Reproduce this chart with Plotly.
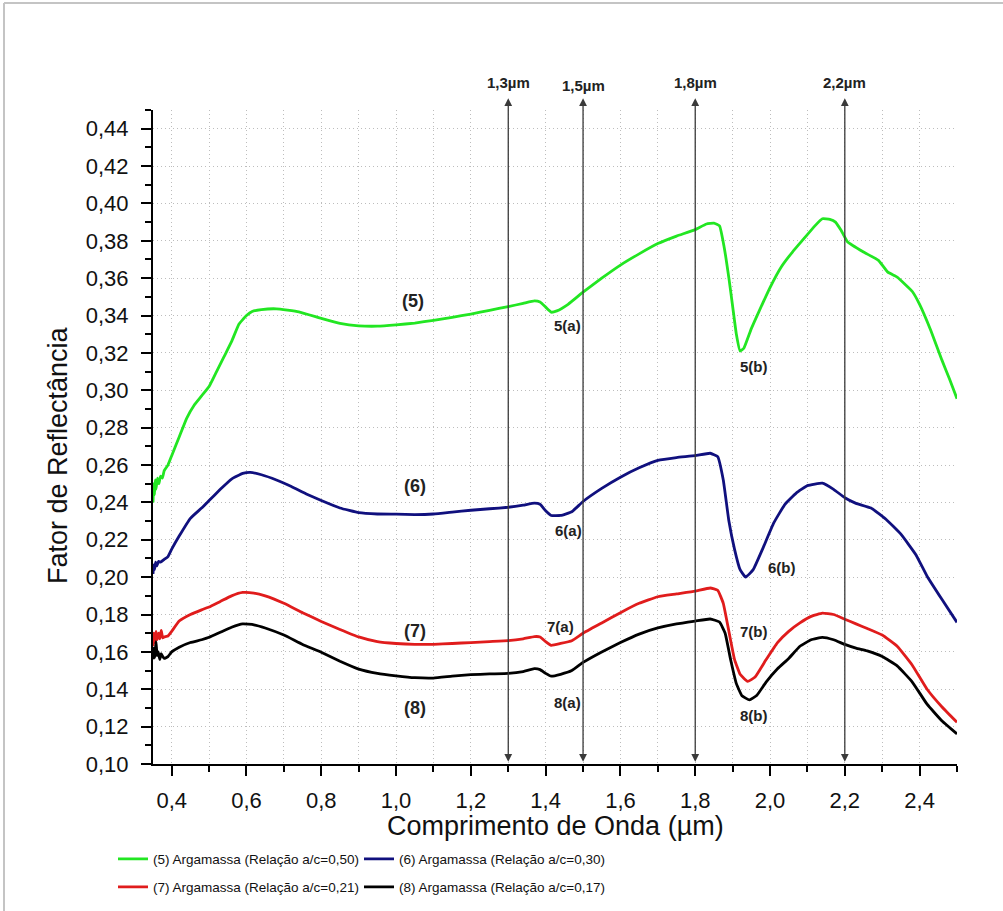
import plotly.graph_objects as go

# ---------------- data ----------------
x5 = [0.350, 0.352, 0.354, 0.356, 0.358, 0.362, 0.366, 0.370, 0.375, 0.380, 0.39, 0.40, 0.42, 0.44, 0.46, 0.48,
      0.50, 0.52, 0.54, 0.56, 0.58, 0.60, 0.615, 0.64, 0.68, 0.74, 0.80, 0.85, 0.90, 0.95, 1.00, 1.05, 1.10, 1.15,
      1.20, 1.25, 1.30, 1.34, 1.37, 1.385, 1.40, 1.415, 1.43, 1.46, 1.50, 1.55, 1.60, 1.65, 1.70, 1.75, 1.80, 1.83,
      1.85, 1.865, 1.877, 1.89, 1.90, 1.91, 1.92, 1.93, 1.95, 1.97, 2.00, 2.03, 2.06, 2.09, 2.12, 2.14, 2.16, 2.175,
      2.19, 2.207, 2.25, 2.29, 2.315, 2.34, 2.365, 2.38, 2.40, 2.43, 2.46, 2.48, 2.50]
y5 = [0.240, 0.250, 0.244, 0.252, 0.247, 0.253, 0.250, 0.254, 0.253, 0.257, 0.260, 0.265, 0.275, 0.285, 0.292, 0.297,
      0.302, 0.310, 0.318, 0.326, 0.3355, 0.3400, 0.3422, 0.3432, 0.3436, 0.3420, 0.3385, 0.3358, 0.3345, 0.3343,
      0.3350, 0.3360, 0.3374, 0.3390, 0.3408, 0.3428, 0.3448, 0.3465, 0.3478, 0.3472, 0.3445, 0.3418, 0.3425,
      0.3460, 0.3525, 0.3600, 0.3670, 0.3730, 0.3785, 0.3825, 0.3860, 0.3890, 0.3895, 0.3880, 0.3770, 0.3600,
      0.3450, 0.3300, 0.3210, 0.3225, 0.3330, 0.3420, 0.3550, 0.3660, 0.3740, 0.3810, 0.3880, 0.3918, 0.3915,
      0.3900, 0.3856, 0.3795, 0.3740, 0.3695, 0.3632, 0.3606, 0.3560, 0.3530, 0.3460, 0.3320, 0.3160, 0.3060,
      0.2955]

x6 = [0.350, 0.352, 0.354, 0.357, 0.360, 0.365, 0.370, 0.38, 0.39, 0.40, 0.42, 0.45, 0.48, 0.50, 0.53, 0.56, 0.59,
      0.61, 0.64, 0.68, 0.72, 0.76, 0.80, 0.85, 0.90, 0.95, 1.00, 1.05, 1.10, 1.15, 1.20, 1.25, 1.30, 1.34, 1.37,
      1.385, 1.40, 1.415, 1.44, 1.47, 1.50, 1.55, 1.60, 1.65, 1.70, 1.75, 1.80, 1.84, 1.86, 1.875, 1.89, 1.905,
      1.92, 1.935, 1.955, 1.98, 2.01, 2.04, 2.07, 2.10, 2.14, 2.17, 2.20, 2.23, 2.27, 2.31, 2.35, 2.39, 2.42,
      2.46, 2.50]
y6 = [0.2017, 0.2065, 0.2040, 0.2080, 0.2060, 0.2085, 0.2080, 0.2095, 0.2110, 0.2150, 0.2220, 0.2315, 0.2370,
      0.2410, 0.2470, 0.2525, 0.2555, 0.2561, 0.2548, 0.2520, 0.2485, 0.2445, 0.2410, 0.2370, 0.2345, 0.2338,
      0.2337, 0.2335, 0.2338, 0.2348, 0.2358, 0.2366, 0.2374, 0.2385, 0.2396, 0.2390, 0.2355, 0.2330, 0.2330,
      0.2350, 0.2405, 0.2475, 0.2535, 0.2585, 0.2625, 0.2640, 0.2650, 0.2663, 0.2645, 0.2520, 0.2300, 0.2150,
      0.2040, 0.2000, 0.2040, 0.2150, 0.2290, 0.2390, 0.2450, 0.2490, 0.2503, 0.2470, 0.2425, 0.2395, 0.2370,
      0.2310, 0.2230, 0.2120, 0.2005, 0.1880, 0.1758]

x7 = [0.350, 0.352, 0.355, 0.358, 0.361, 0.365, 0.368, 0.372, 0.376, 0.38, 0.39, 0.40, 0.42, 0.45, 0.48, 0.50,
      0.53, 0.56, 0.59, 0.62, 0.65, 0.70, 0.75, 0.80, 0.85, 0.90, 0.95, 1.00, 1.05, 1.10, 1.15, 1.20, 1.25, 1.30,
      1.34, 1.37, 1.385, 1.40, 1.415, 1.44, 1.47, 1.50, 1.55, 1.60, 1.65, 1.70, 1.75, 1.80, 1.84, 1.86, 1.875,
      1.89, 1.905, 1.92, 1.94, 1.96, 1.99, 2.02, 2.05, 2.08, 2.11, 2.14, 2.17, 2.20, 2.23, 2.26, 2.30, 2.34,
      2.38, 2.42, 2.46, 2.50]
y7 = [0.1630, 0.1700, 0.1650, 0.1710, 0.1665, 0.1700, 0.1670, 0.1715, 0.1675, 0.1680, 0.1685, 0.1710, 0.1765,
      0.1800, 0.1825, 0.1840, 0.1870, 0.1900, 0.1918, 0.1915, 0.1900, 0.1860, 0.1810, 0.1763, 0.1720, 0.1680,
      0.1655, 0.1645, 0.1640, 0.1640, 0.1645, 0.1650, 0.1655, 0.1660, 0.1670, 0.1682, 0.1680, 0.1655, 0.1635,
      0.1645, 0.1660, 0.1700, 0.1755, 0.1810, 0.1860, 0.1895, 0.1910, 0.1925, 0.1942, 0.1930, 0.1860, 0.1710,
      0.1560, 0.1480, 0.1442, 0.1465, 0.1560, 0.1650, 0.1710, 0.1755, 0.1790, 0.1807, 0.1800, 0.1775, 0.1750,
      0.1725, 0.1690, 0.1630, 0.1530, 0.1400, 0.1305, 0.1223]

x8 = [0.350, 0.352, 0.355, 0.358, 0.361, 0.364, 0.368, 0.372, 0.376, 0.38, 0.39, 0.40, 0.42, 0.45, 0.48, 0.50,
      0.53, 0.56, 0.59, 0.62, 0.65, 0.70, 0.75, 0.80, 0.85, 0.90, 0.95, 1.00, 1.05, 1.10, 1.15, 1.20, 1.25, 1.30,
      1.34, 1.37, 1.385, 1.40, 1.415, 1.44, 1.47, 1.50, 1.55, 1.60, 1.65, 1.70, 1.75, 1.80, 1.84, 1.865, 1.88,
      1.895, 1.91, 1.925, 1.945, 1.965, 1.99, 2.02, 2.05, 2.08, 2.11, 2.14, 2.17, 2.20, 2.23, 2.26, 2.30, 2.34,
      2.38, 2.42, 2.46, 2.50]
y8 = [0.1560, 0.1620, 0.1570, 0.1655, 0.1580, 0.1600, 0.1560, 0.1590, 0.1575, 0.1565, 0.1575, 0.1600, 0.1625,
      0.1650, 0.1665, 0.1678, 0.1705, 0.1732, 0.1750, 0.1745, 0.1728, 0.1690, 0.1640, 0.1598, 0.1550, 0.1508,
      0.1485, 0.1472, 0.1462, 0.1460, 0.1470, 0.1478, 0.1482, 0.1485, 0.1495, 0.1510, 0.1505, 0.1485, 0.1470,
      0.1480, 0.1500, 0.1544, 0.1600, 0.1650, 0.1695, 0.1728, 0.1750, 0.1765, 0.1776, 0.1760, 0.1700, 0.1555,
      0.1430, 0.1365, 0.1343, 0.1368, 0.1440, 0.1510, 0.1565, 0.1630, 0.1665, 0.1678, 0.1665, 0.1640, 0.1620,
      0.1605, 0.1575, 0.1525, 0.1440, 0.1320, 0.1230, 0.1161]

series_names = ["(5) Argamassa (Relação a/c=0,50)", "(6) Argamassa (Relação a/c=0,30)",
                "(7) Argamassa (Relação a/c=0,21)", "(8) Argamassa (Relação a/c=0,17)"]
series_colors = ["#22e622", "#10107e", "#e01c1c", "#000000"]

arrow_x = [1.3, 1.5, 1.8, 2.2]
arrow_labels = ["1,3µm", "1,5µm", "1,8µm", "2,2µm"]

curve_labels = ["(5)", "(6)", "(7)", "(8)"]
curve_label_x = [1.045, 1.05, 1.05, 1.05]
curve_label_y = [0.3477, 0.249, 0.1713, 0.130]

band_labels = ["5(a)", "5(b)", "6(a)", "6(b)", "7(a)", "7(b)", "8(a)", "8(b)"]
band_label_x = [1.458, 1.956, 1.46, 2.033, 1.439, 1.956, 1.458, 1.956]
band_label_y = [0.3347, 0.3128, 0.2248, 0.2051, 0.1735, 0.1709, 0.1328, 0.1259]

# ---------------- layout constants ----------------
W, H = 1003, 911
L, R, T, B = 153, 957, 110, 764
PW, PH = R - L, B - T


def px2paper_x(px):
    return (px - L) / PW


def px2paper_y(py):
    return 1 - (py - T) / PH


fig = go.Figure()
xs = [x5, x6, x7, x8]
ys = [y5, y6, y7, y8]
legend_ids = ["legend", "legend2", "legend3", "legend4"]
for i in range(4):
    fig.add_trace(go.Scatter(
        x=xs[i], y=ys[i], mode="lines", name=series_names[i],
        line=dict(color=series_colors[i], width=2.8, shape="spline", smoothing=0.35),
        legend=legend_ids[i], showlegend=True,
    ))

annotations = []
# arrows
for ax_, lab in zip(arrow_x, arrow_labels):
    annotations.append(dict(
        x=ax_, y=0.1012, xref="x", yref="y", ax=0, ay=-(B - 2 - 97), axref="pixel", ayref="pixel",
        text="", showarrow=True, arrowhead=2, startarrowhead=2, arrowside="end+start",
        arrowsize=1.2, startarrowsize=1.2, arrowwidth=1.3, arrowcolor="#3a3a3a",
    ))
    annotations.append(dict(
        x=ax_, y=px2paper_y(83 if lab != "1,5µm" else 85), xref="x", yref="paper",
        text="<b>%s</b>" % lab, showarrow=False, xanchor="center", yanchor="middle",
        font=dict(family="Arial", size=15, color="#222"),
    ))
for t, x_, y_ in zip(curve_labels, curve_label_x, curve_label_y):
    annotations.append(dict(x=x_, y=y_, xref="x", yref="y", text="<b>%s</b>" % t, showarrow=False,
                            font=dict(family="Arial", size=18, color="#222")))
for t, x_, y_ in zip(band_labels, band_label_x, band_label_y):
    annotations.append(dict(x=x_, y=y_, xref="x", yref="y", text="<b>%s</b>" % t, showarrow=False,
                            font=dict(family="Arial", size=15, color="#222")))
# axis titles
annotations.append(dict(x=px2paper_x(58), y=px2paper_y(455), xref="paper", yref="paper",
                        text="Fator de Reflectância", textangle=-90, showarrow=False,
                        xanchor="center", yanchor="middle", font=dict(family="Arial", size=27, color="#111")))
annotations.append(dict(x=0.5, y=px2paper_y(826), xref="paper", yref="paper",
                        text="Comprimento de Onda (µm)", showarrow=False,
                        xanchor="center", yanchor="middle", font=dict(family="Arial", size=27, color="#111")))

shapes = [
    dict(type="line", xref="paper", yref="paper", x0=px2paper_x(4), x1=px2paper_x(1003),
         y0=px2paper_y(3), y1=px2paper_y(3), line=dict(color="#c4c4c4", width=2)),
    dict(type="line", xref="paper", yref="paper", x0=px2paper_x(4), x1=px2paper_x(4),
         y0=px2paper_y(3), y1=px2paper_y(911), line=dict(color="#c4c4c4", width=2)),
]

legend_font = dict(family="Arial", size=13.5, color="#111")
leg_pos = [(113, 859), (359, 859), (113, 887), (359, 887)]
leg_layout = {}
for lid, (lx, ly) in zip(legend_ids, leg_pos):
    leg_layout[lid] = dict(x=px2paper_x(lx), y=px2paper_y(ly), xanchor="left", yanchor="middle",
                           font=legend_font, bgcolor="rgba(0,0,0,0)", borderwidth=0,
                           orientation="h", itemwidth=30)

fig.update_layout(
    width=W, height=H,
    margin=dict(l=L, r=W - R, t=T, b=H - B, autoexpand=False),
    paper_bgcolor="white", plot_bgcolor="white",
    separators=",.",
    font=dict(family="Arial", color="#111"),
    annotations=annotations, shapes=shapes,
    **leg_layout,
)

fig.update_xaxes(
    range=[0.35, 2.5], tick0=0.4, dtick=0.2, tickformat=".1f",
    showline=True, linecolor="#000", linewidth=2, mirror=False,
    ticks="outside", ticklen=10, tickwidth=2, tickcolor="#000",
    tickfont=dict(family="Arial", size=22, color="#111"),
    showgrid=True, gridcolor="#bdbdbd", gridwidth=1, griddash="1px,3px",
    minor=dict(tick0=0.3, dtick=0.1, ticks="outside", ticklen=6, tickwidth=2, tickcolor="#000",
               showgrid=True, gridcolor="#bdbdbd", gridwidth=1, griddash="1px,3px"),
    zeroline=False, ticklabelstandoff=6,
)
fig.update_yaxes(
    range=[0.10, 0.45], tick0=0.10, dtick=0.02, tickformat=".2f",
    showline=True, linecolor="#000", linewidth=2, mirror=False,
    ticks="outside", ticklen=10, tickwidth=2, tickcolor="#000",
    tickfont=dict(family="Arial", size=22, color="#111"),
    showgrid=True, gridcolor="#bdbdbd", gridwidth=1, griddash="1px,3px",
    minor=dict(tick0=0.11, dtick=0.02, ticks="outside", ticklen=6, tickwidth=2, tickcolor="#000",
               showgrid=False),
    zeroline=False, ticklabelstandoff=8,
)

fig.write_html("out.html")
